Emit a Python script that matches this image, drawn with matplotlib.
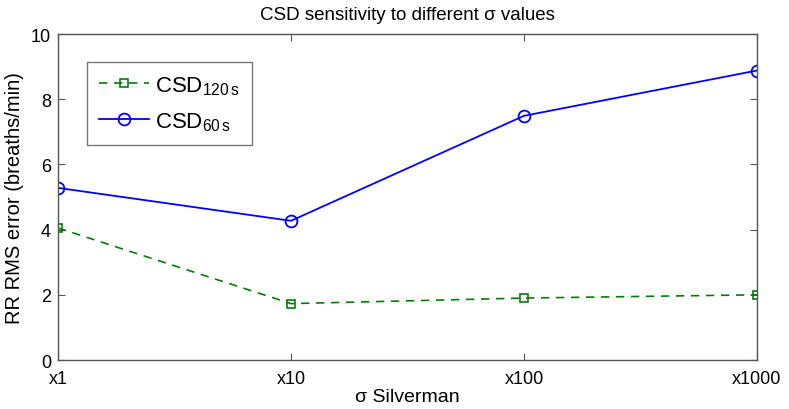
import matplotlib
matplotlib.use("Agg")
import matplotlib.pyplot as plt

plt.rcParams['font.family'] = ['Liberation Sans', 'DejaVu Sans']
plt.rcParams['mathtext.fontset'] = 'custom'
plt.rcParams['mathtext.rm'] = 'Liberation Sans'
plt.rcParams['mathtext.it'] = 'Liberation Sans'

categories = ['x1', 'x10', 'x100', 'x1000']
csd_120s = [4.05, 1.73, 1.90, 2.00]
csd_60s = [5.28, 4.27, 7.49, 8.88]
yticks = [0, 2, 4, 6, 8, 10]

fig = plt.figure(figsize=(7.89, 4.10), dpi=100)
ax = fig.add_axes([0.0735, 0.1195, 0.8859, 0.7951])

x = list(range(len(categories)))
ax.plot(x, csd_120s, linestyle=(0, (5, 4)), color='#008000', lw=1.2,
        marker='s', markersize=6, markerfacecolor='none', markeredgewidth=1.2,
        label=r'CSD$_{\mathregular{120\,s}}\quad$')
ax.plot(x, csd_60s, linestyle='-', color='#0000ff', lw=1.3,
        marker='o', markersize=8.5, markerfacecolor='none', markeredgewidth=1.3,
        label=r'CSD$_{\mathregular{60\,s}}\quad$')

ax.set_xlim(0, len(categories) - 1)
ax.set_ylim(0, 10)
ax.set_xticks(x)
ax.set_xticklabels(categories)
ax.set_yticks(yticks)
ax.tick_params(direction='in', top=True, right=True, labelsize=13, length=5,
               color='#555555')
ax.tick_params(axis='x', pad=7)
ax.tick_params(axis='y', pad=5)
for s in ax.spines.values():
    s.set_color('#555555')
    s.set_linewidth(1.0)

ax.set_xlabel('σ Silverman', fontsize=14, labelpad=1)
ax.set_ylabel('RR RMS error (breaths/min)', fontsize=14.5, labelpad=5)
ax.set_title('CSD sensitivity to different σ values', fontsize=13.5, pad=11)

leg = ax.legend(loc='upper left', bbox_to_anchor=(0.0415, 0.914), fontsize=16,
                frameon=True, fancybox=False, edgecolor='#555555',
                handlelength=2.25, borderpad=0.55, labelspacing=0.6,
                handletextpad=0.25, borderaxespad=0)
leg.get_frame().set_linewidth(1.0)

fig.savefig('out.png', dpi=100)
